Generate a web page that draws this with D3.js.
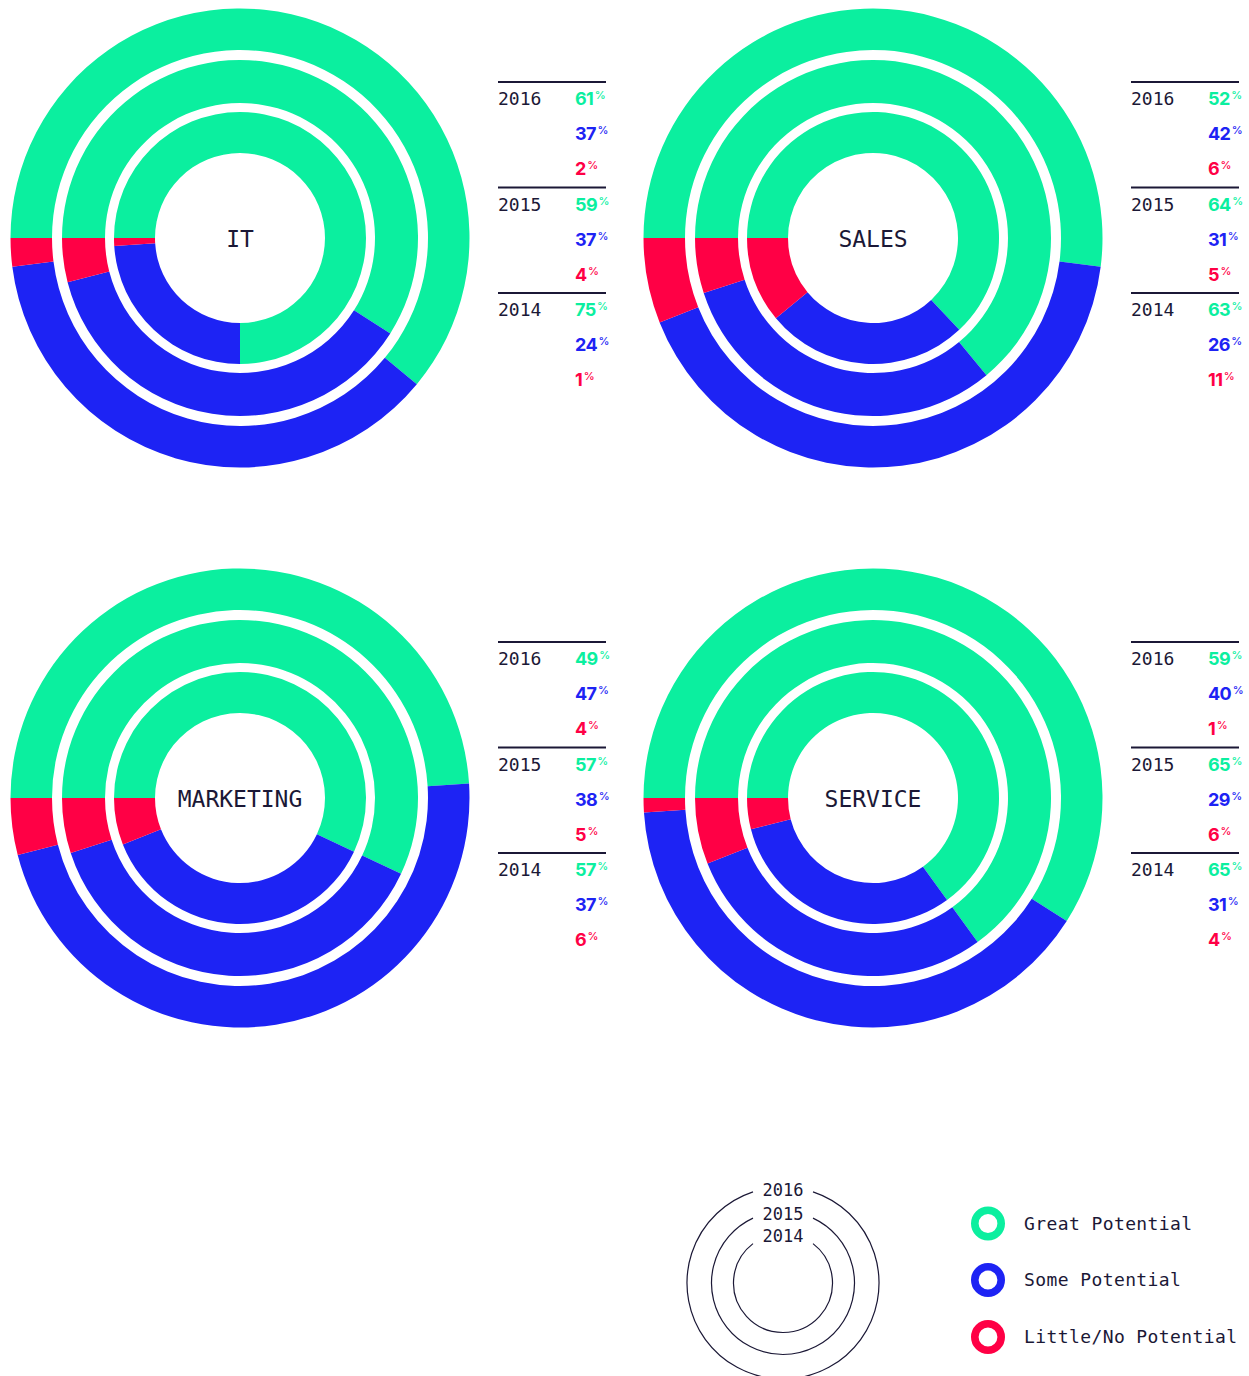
<!DOCTYPE html>
<html>
<head>
<meta charset="utf-8">
<script src="https://cdn.jsdelivr.net/npm/d3@7/dist/d3.min.js"></script>
<style>
  html, body { margin: 0; padding: 0; background: #ffffff; }
  svg { display: block; }
</style>
</head>
<body>
<script>
// Potential ratings by department, one ring per year (outer = 2016)
const departments = ["IT", "SALES", "MARKETING", "SERVICE"];
const years = ["2016", "2015", "2014"];
const categories = ["Great Potential", "Some Potential", "Little/No Potential"];

// [great, some, little] per year, in the order of `years`
const itValues        = [[61, 37, 2], [59, 37, 4], [75, 24, 1]];
const salesValues     = [[52, 42, 6], [64, 31, 5], [63, 26, 11]];
const marketingValues = [[49, 47, 4], [57, 38, 5], [57, 37, 6]];
const serviceValues   = [[59, 40, 1], [65, 29, 6], [65, 31, 4]];

const departmentValues = [itValues, salesValues, marketingValues, serviceValues];

const W = 1249, H = 1376;
const ink = "#1b1836";
const color = d3.scaleOrdinal()
  .domain(categories)
  .range(["#0bef9f", "#1d23f4", "#ff0045"]);

const svg = d3.select("body").append("svg")
  .attr("width", W).attr("height", H);

// ring bands, outer to inner (2016, 2015, 2014)
const ringRadii = [[188, 229.5], [135, 178], [85, 126]];

const centers = [[240, 238], [873, 238], [240, 798], [873, 798]];

const pie = d3.pie()
  .sort(null)
  .value(d => d.value)
  .startAngle(-Math.PI / 2)
  .endAngle(Math.PI * 3 / 2);

departments.forEach((dept, di) => {
  const [cx, cy] = centers[di];
  const vals = departmentValues[di];
  const g = svg.append("g").attr("transform", `translate(${cx},${cy})`);

  years.forEach((yr, yi) => {
    const arc = d3.arc()
      .innerRadius(ringRadii[yi][0])
      .outerRadius(ringRadii[yi][1]);
    const slices = pie(categories.map((c, ci) => ({ cat: c, value: vals[yi][ci] })));
    g.append("g").selectAll("path")
      .data(slices)
      .join("path")
      .attr("d", arc)
      .attr("fill", d => color(d.data.cat));
  });

  g.append("text")
    .attr("x", 0).attr("y", 1)
    .attr("text-anchor", "middle")
    .attr("dominant-baseline", "central")
    .attr("font-family", "DejaVu Sans Mono, monospace")
    .attr("font-size", 23)
    .attr("fill", ink)
    .text(dept);

  // value table beside each chart
  const tx = cx + 258, ty = cy - 156;
  const table = svg.append("g").attr("transform", `translate(${tx},${ty})`);
  years.forEach((yr, yi) => {
    const gy = yi * 105.5;
    table.append("line")
      .attr("x1", 0).attr("x2", 108)
      .attr("y1", gy).attr("y2", gy)
      .attr("stroke", ink).attr("stroke-width", 2);
    table.append("text")
      .attr("x", 0).attr("y", gy + 23)
      .attr("font-family", "DejaVu Sans Mono, monospace")
      .attr("font-size", 18)
      .attr("fill", ink)
      .text(yr);
    categories.forEach((c, ci) => {
      const t = table.append("text")
        .attr("x", 77).attr("y", gy + 23 + ci * 35)
        .attr("font-family", "Inter, sans-serif")
        .attr("font-weight", 700)
        .attr("font-size", 18)
        .attr("letter-spacing", -0.6)
        .attr("fill", color(c));
      t.append("tspan").text(vals[yi][ci]);
      t.append("tspan")
        .attr("font-size", 11)
        .attr("font-weight", 500)
        .attr("dx", 1.5)
        .attr("dy", -6)
        .attr("letter-spacing", 0)
        .text("%");
    });
  });
});

// Year key: concentric outlines with labels set into gaps at the top
const key = svg.append("g").attr("transform", "translate(783,1283)");
const keyRadii = [96, 71.5, 49.5];
years.forEach((yr, yi) => {
  const r = keyRadii[yi];
  const half = 30;
  const ga = Math.asin(half / r);
  const p = d3.path();
  // d3.path angles: 0 = 3 o'clock; top is -PI/2
  p.arc(0, 0, r, -Math.PI / 2 + ga, -Math.PI / 2 - ga + 2 * Math.PI);
  key.append("path")
    .attr("d", p.toString())
    .attr("fill", "none")
    .attr("stroke", ink)
    .attr("stroke-width", 1.2);
  key.append("text")
    .attr("x", 0).attr("y", -r + 2.5)
    .attr("text-anchor", "middle")
    .attr("dominant-baseline", "central")
    .attr("font-family", "DejaVu Sans Mono, monospace")
    .attr("font-size", 17)
    .attr("fill", ink)
    .text(yr);
});

// Category legend
const legend = svg.append("g").attr("transform", "translate(988,1223.5)");
categories.forEach((c, ci) => {
  const ly = [0, 56.5, 113.5][ci];
  legend.append("circle")
    .attr("cx", 0).attr("cy", ly)
    .attr("r", 13.2)
    .attr("fill", "none")
    .attr("stroke", color(c))
    .attr("stroke-width", 7.6);
  legend.append("text")
    .attr("x", 36).attr("y", ly - 0.5)
    .attr("dominant-baseline", "central")
    .attr("font-family", "DejaVu Sans Mono, monospace")
    .attr("font-size", 18)
    .attr("letter-spacing", 0.4)
    .attr("fill", ink)
    .text(c);
});
</script>
</body>
</html>
